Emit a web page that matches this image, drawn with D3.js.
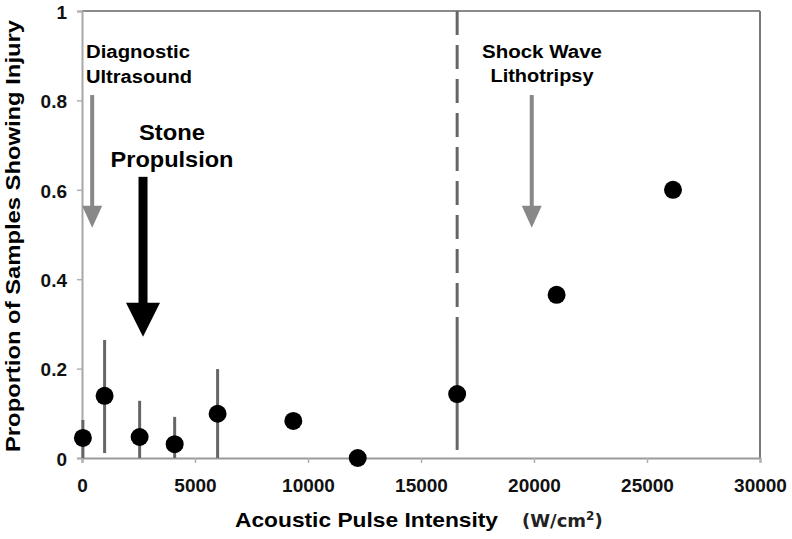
<!DOCTYPE html>
<html>
<head>
<meta charset="utf-8">
<script src="https://cdn.jsdelivr.net/npm/d3@7"></script>
<style>
html,body{margin:0;padding:0;background:#fff;}
svg{display:block;}
</style>
</head>
<body>
<svg id="chart" width="792" height="539"></svg>
<script>
// ---- data ----
const intensity = [40, 1000, 2550, 4100, 6000, 9350, 12200, 16600, 21000, 26150];
const proportion = [0.045, 0.139, 0.047, 0.031, 0.099, 0.083, 0.0, 0.143, 0.365, 0.600];
const errLow  = [0.0, 0.011, 0.0, 0.0, 0.0, null, null, 0.018, null, null];
const errHigh = [0.085, 0.264, 0.128, 0.092, 0.199, null, null, 0.264, null, null];
const xTicks = [0, 5000, 10000, 15000, 20000, 25000, 30000];
const yTicks = [0, 0.2, 0.4, 0.6, 0.8, 1];
const yTickLabels = ["0", "0.2", "0.4", "0.6", "0.8", "1"];
const thresholdX = 16600;
// annotations: label lines, arrow x, arrow top, arrow tip (data units)
const annoLabels = [["Diagnostic", "Ultrasound"], ["Stone", "Propulsion"], ["Shock Wave", "Lithotripsy"]];
const annoArrowX = [450, 2700, 19900];
const annoArrowTop = [0.812, 0.629, 0.812];
const annoArrowTip = [0.515, 0.271, 0.515];

// ---- layout ----
const svg = d3.select("#chart");
const x = d3.scaleLinear().domain([0, 30000]).range([82, 760]);
const y = d3.scaleLinear().domain([0, 1]).range([458, 11]);

// frame top/right
svg.append("line").attr("x1", x(0)).attr("x2", x(30000)).attr("y1", y(1)).attr("y2", y(1))
  .attr("stroke", "#8a8a8a").attr("stroke-width", 2);
svg.append("line").attr("x1", x(30000)).attr("x2", x(30000)).attr("y1", y(1)).attr("y2", y(0))
  .attr("stroke", "#7a7a7a").attr("stroke-width", 2);

// axes
const xAxis = d3.axisBottom(x).tickValues(xTicks).tickSize(5).tickFormat(d3.format("d"));
const gx = svg.append("g").attr("transform", `translate(0,${y(0)})`).call(xAxis);
gx.select(".domain").attr("stroke", "#9a9a9a").attr("stroke-width", 2);
gx.selectAll(".tick line").attr("stroke", "#b0b0b0").attr("stroke-width", 1.5);
gx.selectAll(".tick text").attr("font-family", "Liberation Sans, Arial, sans-serif").attr("font-weight", "bold")
  .attr("font-size", 19).attr("fill", "#111").attr("dy", "0").attr("y", 34);

const yAxis = d3.axisLeft(y).tickValues(yTicks).tickSize(5).tickFormat((d, i) => yTickLabels[i]);
const gy = svg.append("g").attr("transform", `translate(${x(0)},0)`).call(yAxis);
gy.select(".domain").attr("stroke", "#a8a8a8").attr("stroke-width", 2);
gy.selectAll(".tick line").attr("stroke", "#b0b0b0").attr("stroke-width", 1.5);
gy.selectAll(".tick text").attr("font-family", "Liberation Sans, Arial, sans-serif").attr("font-weight", "bold")
  .attr("font-size", 19).attr("fill", "#111").attr("x", -15).attr("dy", "0.38em");

// threshold dashed line (above the error bar of the point at the same x)
svg.append("line").attr("x1", x(thresholdX)).attr("x2", x(thresholdX))
  .attr("y1", y(1)).attr("y2", y(errHigh[7]))
  .attr("stroke", "#666").attr("stroke-width", 3).attr("stroke-dasharray", "24,10");

// error bars
const pts = intensity.map((v, i) => ({x: v, y: proportion[i], lo: errLow[i], hi: errHigh[i]}));
svg.append("g").selectAll("line").data(pts.filter(d => d.hi !== null)).join("line")
  .attr("x1", d => x(d.x)).attr("x2", d => x(d.x))
  .attr("y1", d => y(d.lo)).attr("y2", d => y(d.hi))
  .attr("stroke", "#666").attr("stroke-width", 3);

// points
svg.append("g").selectAll("circle").data(pts).join("circle")
  .attr("cx", d => x(d.x)).attr("cy", d => y(d.y)).attr("r", 9).attr("fill", "#000");

// arrows
const arrowStyle = [
  {color: "#888", shaft: 4, headW: 20, headH: 22},
  {color: "#000", shaft: 9, headW: 34, headH: 34},
  {color: "#888", shaft: 4, headW: 20, headH: 22}
];
annoArrowX.forEach((ax, i) => {
  const s = arrowStyle[i];
  const cx = x(ax), top = y(annoArrowTop[i]), tip = y(annoArrowTip[i]);
  const hb = tip - s.headH;
  svg.append("rect").attr("x", cx - s.shaft / 2).attr("y", top).attr("width", s.shaft)
    .attr("height", hb - top + 1).attr("fill", s.color);
  svg.append("path").attr("d", `M${cx - s.headW / 2},${hb}L${cx + s.headW / 2},${hb}L${cx},${tip}Z`)
    .attr("fill", s.color);
});

// annotation texts
const annoText = [
  {x: 86, anchor: "start", size: 18, lines: [{y: 58, w: 104}, {y: 83, w: 106}]},
  {x: 172, anchor: "middle", size: 22, lines: [{y: 140, w: 66}, {y: 167, w: 123}]},
  {x: 542, anchor: "middle", size: 18, lines: [{y: 58, w: 120}, {y: 82, w: 103}]}
];
annoLabels.forEach((lines, i) => {
  const a = annoText[i];
  lines.forEach((t, j) => {
    svg.append("text").attr("x", a.x).attr("y", a.lines[j].y).attr("text-anchor", a.anchor)
      .attr("font-family", "Liberation Sans, Arial, sans-serif").attr("font-weight", "bold")
      .attr("font-size", a.size).attr("fill", "#000")
      .attr("textLength", a.lines[j].w).attr("lengthAdjust", "spacingAndGlyphs")
      .text(t);
  });
});

// axis titles
svg.append("text").attr("x", 235).attr("y", 527)
  .attr("font-family", "Liberation Sans, Arial, sans-serif").attr("font-weight", "bold")
  .attr("font-size", 21).attr("fill", "#000")
  .attr("textLength", 263).attr("lengthAdjust", "spacingAndGlyphs")
  .text("Acoustic Pulse Intensity");
const unit = svg.append("text").attr("x", 522).attr("y", 527)
  .attr("font-family", "DejaVu Sans, sans-serif").attr("font-weight", "bold")
  .attr("font-size", 18).attr("fill", "#222");
unit.append("tspan").text("(W/cm");
unit.append("tspan").attr("font-size", 12).attr("dy", -7).text("2");
unit.append("tspan").attr("dy", 7).text(")");

svg.append("text").attr("transform", "translate(20,452) rotate(-90)")
  .attr("font-family", "Liberation Sans, Arial, sans-serif").attr("font-weight", "bold")
  .attr("font-size", 21).attr("fill", "#000")
  .attr("textLength", 432).attr("lengthAdjust", "spacingAndGlyphs")
  .text("Proportion of Samples Showing Injury");
</script>
</body>
</html>
